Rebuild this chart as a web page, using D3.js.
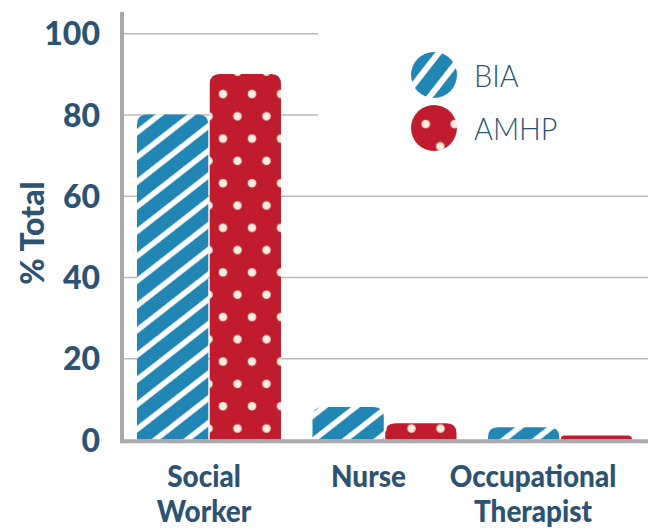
<!DOCTYPE html>
<html>
<head>
<meta charset="utf-8">
<script src="https://cdn.jsdelivr.net/npm/d3@7"></script>
<style>
  html, body { margin: 0; padding: 0; background: #fff; }
  svg { display: block; }
</style>
</head>
<body>
<svg id="chart" width="648" height="528"></svg>
<script>
// Professional background of staff (% of total)
const categories = ["Social Worker", "Nurse", "Occupational Therapist"];
const categoryLines = [["Social", "Worker"], ["Nurse"], ["Occupational", "Therapist"]];
const series = ["BIA", "AMHP"];
const biaValues = [80, 8, 3];
const amhpValues = [90, 4, 1];
const yTicks = [0, 20, 40, 60, 80, 100];
const yTitle = "% Total";

const W = 648, H = 528;
const textColor = "#2c5274";
const blue = "#2386b5";
const red = "#c01f2d";
const dotColor = "#fbece0";
const gridColor = "#b9b9bd";
const axisColor = "#a9a9ad";
const font = "Lato, 'Open Sans', sans-serif";

const svg = d3.select("#chart");
const defs = svg.append("defs");

// Diagonal white stripes for BIA bars
const stripe = defs.append("pattern")
  .attr("id", "stripes")
  .attr("patternUnits", "userSpaceOnUse")
  .attr("width", 40).attr("height", 19.5)
  .attr("patternTransform", "translate(137,120) rotate(-38)");
stripe.append("rect").attr("width", 40).attr("height", 19.5).attr("fill", blue);
stripe.append("rect").attr("y", 7).attr("width", 40).attr("height", 5.5).attr("fill", "#ffffff");

// Staggered white polka dots for AMHP bars
function dotPattern(id, ox, oy) {
  const p = defs.append("pattern")
    .attr("id", id)
    .attr("patternUnits", "userSpaceOnUse")
    .attr("x", ox).attr("y", oy)
    .attr("width", 29).attr("height", 44.6);
  p.append("rect").attr("width", 29).attr("height", 44.6).attr("fill", red);
  p.append("circle").attr("cx", 7.25).attr("cy", 11.15).attr("r", 4.2).attr("fill", dotColor);
  p.append("circle").attr("cx", 21.75).attr("cy", 33.45).attr("r", 4.2).attr("fill", dotColor);
}
dotPattern("dots", 215.75, 82.85);
dotPattern("dotsLegend", 418.5, 112.9);

// Legend stripes (steeper angle)
const lstripe = defs.append("pattern")
  .attr("id", "stripesLegend")
  .attr("patternUnits", "userSpaceOnUse")
  .attr("width", 60).attr("height", 20)
  .attr("patternTransform", "translate(434,75) rotate(-52)");
lstripe.append("rect").attr("width", 60).attr("height", 20).attr("fill", blue);
lstripe.append("rect").attr("y", 7).attr("width", 60).attr("height", 6).attr("fill", "#ffffff");

const softBlur = defs.append("filter").attr("id", "soft")
  .attr("x", "-5%").attr("y", "-5%").attr("width", "110%").attr("height", "110%");
softBlur.append("feGaussianBlur").attr("stdDeviation", 0.45);

// Scales
const y = d3.scaleLinear().domain([0, 100]).range([439.5, 33.3]);
const x0 = d3.scaleBand().domain(categories).range([137, 632]).paddingInner(0.1795).paddingOuter(0);
const x1 = d3.scaleBand().domain(series).range([0, x0.bandwidth()]).paddingInner(0.02);
const labelX = d3.scalePoint().domain(categories).range([204, 533]);

// Gridlines
const yAxisGrid = d3.axisLeft(y).tickValues(yTicks.filter(d => d > 0)).tickSize(-(W - 124)).tickFormat("");
svg.append("g")
  .attr("transform", "translate(124,0)")
  .call(yAxisGrid)
  .call(g => g.select(".domain").remove())
  .call(g => g.selectAll("line").attr("stroke", gridColor).attr("stroke-width", 1.6));

// Legend panel covers the upper gridlines on the right
svg.append("rect").attr("x", 318).attr("y", 24).attr("width", W - 318).attr("height", 140).attr("fill", "#fff");

// Tick labels
const yAxisLabels = d3.axisLeft(y).tickValues(yTicks).tickSize(0).tickPadding(0);
svg.append("g")
  .attr("transform", "translate(100,0)")
  .call(yAxisLabels)
  .call(g => g.select(".domain").remove())
  .call(g => g.selectAll("text")
    .attr("fill", textColor)
    .attr("font-family", font)
    .attr("font-weight", 900)
    .attr("font-size", 32)
    .attr("dy", "0.36em"));

// Axis title
svg.append("text")
  .attr("transform", "translate(44,233) rotate(-90)")
  .attr("text-anchor", "middle")
  .attr("fill", textColor)
  .attr("font-family", font)
  .attr("font-weight", 900)
  .attr("font-size", 32)
  .text(yTitle);

// Bars with rounded tops
function topRounded(x, yTop, w, yBase, r) {
  const h = yBase - yTop;
  const rr = Math.min(r, h, w / 2);
  return `M${x},${yBase}V${yTop + rr}Q${x},${yTop} ${x + rr},${yTop}H${x + w - rr}Q${x + w},${yTop} ${x + w},${yTop + rr}V${yBase}Z`;
}

const bars = [];
categories.forEach((c, i) => {
  bars.push({ cat: c, s: "BIA", v: biaValues[i] });
  bars.push({ cat: c, s: "AMHP", v: amhpValues[i] });
});
svg.append("g").selectAll("path").data(bars).join("path")
  .attr("d", d => topRounded(x0(d.cat) + x1(d.s), y(d.v), x1.bandwidth(), y(0), 10))
  .attr("fill", d => d.s === "BIA" ? "url(#stripes)" : "url(#dots)")
  .attr("filter", "url(#soft)");

// Axis lines
svg.append("line").attr("x1", 122).attr("x2", 122).attr("y1", 12).attr("y2", 443)
  .attr("stroke", axisColor).attr("stroke-width", 4);
svg.append("line").attr("x1", 120).attr("x2", W).attr("y1", 441.3).attr("y2", 441.3)
  .attr("stroke", axisColor).attr("stroke-width", 4);

// Category labels (slightly condensed)
const catG = svg.append("g");
categories.forEach((c, i) => {
  const cx = labelX(c);
  const t = catG.append("text")
    .attr("transform", `translate(${cx},0) scale(0.93,1)`)
    .attr("text-anchor", "middle")
    .attr("fill", textColor)
    .attr("font-family", font)
    .attr("font-weight", 900)
    .attr("font-size", 30);
  categoryLines[i].forEach((line, k) => {
    t.append("tspan").attr("x", 0).attr("y", 487 + k * 35).text(line);
  });
});

// Legend
const legend = svg.append("g");
const legendFills = ["url(#stripesLegend)", "url(#dotsLegend)"];
const ly = d3.scalePoint().domain(series).range([75, 128]);
series.forEach((s, i) => {
  legend.append("circle").attr("cx", 434).attr("cy", ly(s)).attr("r", 23)
    .attr("fill", legendFills[i]).attr("filter", "url(#soft)");
  legend.append("text")
    .attr("transform", `translate(474,${ly(s) + 12}) scale(0.9,1)`)
    .attr("fill", textColor)
    .attr("font-family", font)
    .attr("font-weight", 300)
    .attr("font-size", 32)
    .text(s);
});
</script>
</body>
</html>
